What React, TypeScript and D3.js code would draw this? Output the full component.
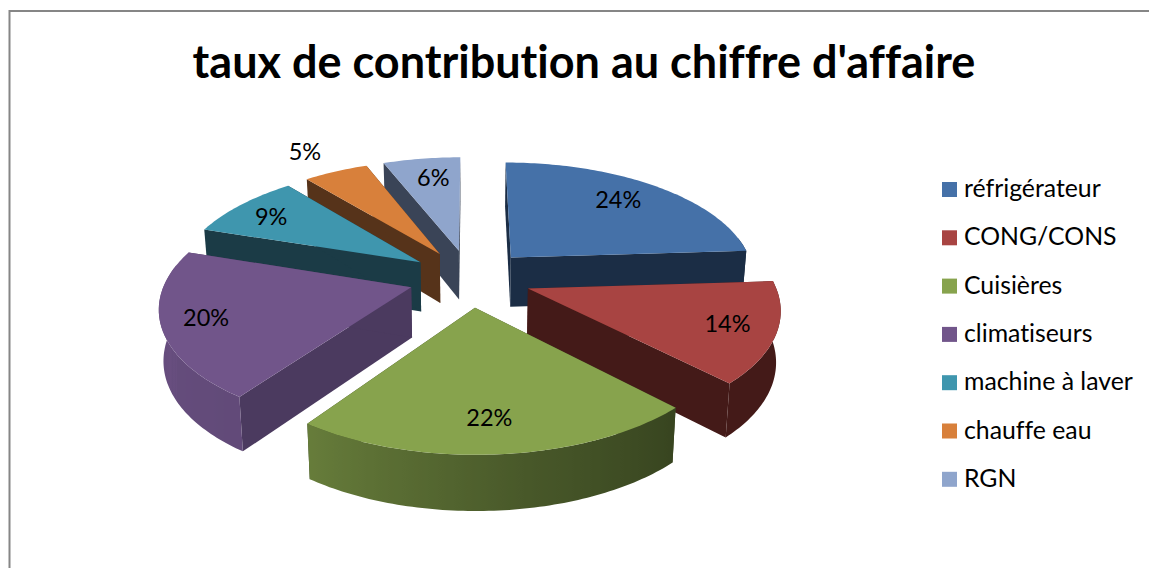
import * as d3 from 'd3';

const title = "taux de contribution au chiffre d'affaire";
const categories = ['réfrigérateur', 'CONG/CONS', 'Cuisières', 'climatiseurs', 'machine à laver', 'chauffe eau', 'RGN'];
// only the rounded % is printed, so the tenths are read from the slice edges
const shares = [24, 13.7, 22.1, 20.2, 9, 5, 6];
const faceColors = ['#4571a8', '#a84442', '#87a34d', '#71558a', '#3f96ae', '#d8803b', '#8fa5cc'];
const wallColors = ['#1b2d45', '#441a18', '#384520', '#4b3a5f', '#1b3b46', '#56331a', '#3a4457'];
// how far out the % label sits, in pie radii, plus a small hand nudge in px
const labelReach = [0.75, 0.8, 0.78, 0.8, 0.75, 1.3, 0.77];
const labelNudge = [[-3, -2], [3, 0], [-4, 0], [-7, 0], [-12, -1], [-4, 2], [4, 0]];
// back to front
const drawOrder = [6, 5, 4, 3, 0, 1, 2];

const width = 1149;
const height = 568;
const cx = 470;
const cy = 278;
const radiusX = 245;
const radiusY = 115;
const perspective = 0.15;
const explode = 0.25;
const depth = 50;
const font = 'Lato, "Noto Sans", sans-serif';
const textStyle = { fontVariantLigatures: 'none' };

type Pt = [number, number];
type Arc = d3.PieArcDatum<number>;

// plane coords (unit pie radius, y towards viewer) -> screen
const project = (x: number, y: number): Pt => {
  const w = 1 - perspective * y;
  return [cx + (radiusX * x) / w, cy + (radiusY * y) / w];
};
const projectBottom = (x: number, y: number): Pt => {
  const [sx, sy] = project(x, y);
  return [cx + (sx - cx) * 0.985, sy + depth * (1 + 0.1 * y)];
};

const offsetOf = (a: Arc): Pt => {
  const mid = (a.startAngle + a.endAngle) / 2;
  return [explode * Math.sin(mid), -explode * Math.cos(mid)];
};
const onRim = (a: Arc, t: number, r = 1): Pt => {
  const [ox, oy] = offsetOf(a);
  return [ox + r * Math.sin(t), oy - r * Math.cos(t)];
};

// lighting of the outer wall, by angle round the pie
const deg = (d: number) => (d * Math.PI) / 180;
const lightAt = d3.scaleLinear().domain([deg(137), deg(170), deg(216), deg(270)]).range([0, 0.2, 0.6, 0.75]).clamp(true);

const line = d3.line<Pt>();
const closed = (pts: Pt[]) => line(pts) + 'Z';

function Slice({ arc, index }: { arc: Arc; index: number }) {
  const n = Math.ceil((arc.endAngle - arc.startAngle) / deg(1));
  const angles = d3.range(n + 1).map((i) => arc.startAngle + ((arc.endAngle - arc.startAngle) * i) / n);
  const apex = offsetOf(arc);
  const rim = angles.map((t) => onRim(arc, t));
  const wall = (p: Pt, q: Pt) => [project(...p), project(...q), projectBottom(...q), projectBottom(...p)];
  const top: Pt[] = [project(...apex), ...rim.map((p) => project(...p))];
  const mix = d3.interpolateRgb(wallColors[index], faceColors[index]);

  // only the part of the outer wall that faces the viewer (a bit past side-on, the top hides the rest)
  const front = angles.filter((t) => Math.cos(t) < 0.2);
  const frontRim = front.map((t) => onRim(arc, t));
  const frontTop = frontRim.map((p) => project(...p));
  const frontBottom = frontRim.map((p) => projectBottom(...p)).reverse();
  const xs = d3.extent(frontTop, (p) => p[0]) as [number, number];
  const toOffset = d3.scaleLinear().domain(xs).range([0, 1]);
  const gradientId = `wall-${index}`;

  return (
    <g>
      <path d={closed(wall(apex, rim[0]))} fill={wallColors[index]} />
      <path d={closed(wall(apex, rim[n]))} fill={wallColors[index]} />
      {front.length > 1 && (
        <>
          <linearGradient id={gradientId} gradientUnits="userSpaceOnUse" x1={xs[0]} x2={xs[1]} y1={0} y2={0}>
            {front
              .map((t, i) => ({ t, x: frontTop[i][0] }))
              .sort((a, b) => a.x - b.x)
              .map((s, i) => (
                <stop key={i} offset={toOffset(s.x)} stopColor={mix(lightAt(s.t))} />
              ))}
          </linearGradient>
          <path d={closed([...frontTop, ...frontBottom])} fill={`url(#${gradientId})`} />
        </>
      )}
      <path d={closed(top)} fill={faceColors[index]} />
    </g>
  );
}

export default function App() {
  const arcs = d3.pie<number>().sort(null)(shares);
  return (
    <svg width={width} height={height} style={{ position: 'absolute', left: 0, top: 0, display: 'block', background: '#fff' }}>
      <rect x={9.5} y={11} width={1145} height={570} fill="#fff" stroke="#868686" strokeWidth={2} />
      <text x={584} y={78} textAnchor="middle" fontFamily={font} fontWeight={700} fontSize={45} fill="#000" style={textStyle}>
        {title}
      </text>
      {drawOrder.map((i) => (
        <Slice key={i} arc={arcs[i]} index={i} />
      ))}
      {arcs.map((a, i) => {
        const mid = (a.startAngle + a.endAngle) / 2;
        const [x, y] = project(...onRim(a, mid, labelReach[i]));
        return (
          <text key={i} x={x + labelNudge[i][0]} y={y + 8 + labelNudge[i][1]} textAnchor="middle" fontFamily={font} fontSize={23.5} fill="#000" style={textStyle}>
            {Math.round(shares[i])}%
          </text>
        );
      })}
      {categories.map((c, i) => {
        const y = 182 + i * 48.3;
        return (
          <g key={c}>
            <rect x={942} y={y} width={15} height={15} fill={faceColors[i]} />
            <text x={964} y={y + 15} fontFamily={font} fontSize={24.8} fill="#000" style={textStyle}>
              {c}
            </text>
          </g>
        );
      })}
    </svg>
  );
}
